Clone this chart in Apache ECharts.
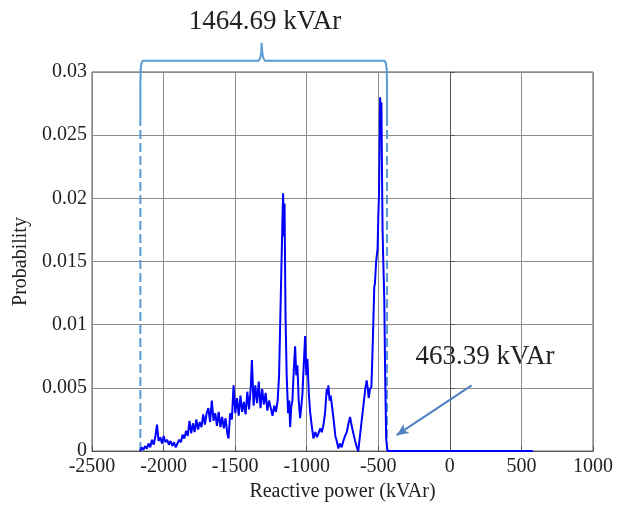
<!DOCTYPE html>
<html>
<head>
<meta charset="utf-8">
<script src="https://cdn.jsdelivr.net/npm/echarts@6/dist/echarts.min.js"></script>
<style>
  html, body { margin: 0; padding: 0; background: #fff; }
  #chart { width: 635px; height: 507px; }
</style>
</head>
<body>
<div id="chart"></div>
<script>
// [reactive power (kVAr), probability]
var distribution = [
  [-2165, 0.0000], [-2153, 0.0003], [-2141, 0.0001], [-2129, 0.0004], [-2117, 0.0002],
  [-2105, 0.0006], [-2093, 0.0003], [-2081, 0.0009], [-2069, 0.0005], [-2057, 0.0012],
  [-2046, 0.0021], [-2035, 0.0008], [-2023, 0.0011], [-2011, 0.0006], [-1999, 0.0012],
  [-1987, 0.0007], [-1975, 0.0009], [-1963, 0.0005], [-1951, 0.0008], [-1939, 0.0004],
  [-1927, 0.0007], [-1915, 0.0003], [-1903, 0.0006], [-1891, 0.0009], [-1879, 0.0007],
  [-1867, 0.0013], [-1855, 0.0010], [-1843, 0.0016], [-1831, 0.0012], [-1819, 0.0024],
  [-1807, 0.0014], [-1795, 0.0022], [-1783, 0.0015], [-1771, 0.0025], [-1759, 0.0017],
  [-1747, 0.0023], [-1735, 0.0019], [-1723, 0.0029], [-1711, 0.0021], [-1699, 0.0030],
  [-1687, 0.0034], [-1675, 0.0023], [-1663, 0.0040], [-1651, 0.0024], [-1639, 0.0030],
  [-1627, 0.0020], [-1615, 0.0031], [-1603, 0.0019], [-1591, 0.0027], [-1579, 0.0018],
  [-1567, 0.0026], [-1555, 0.0014], [-1546, 0.0010], [-1535, 0.0030], [-1523, 0.0025],
  [-1511, 0.0052], [-1499, 0.0030], [-1487, 0.0042], [-1475, 0.0028], [-1463, 0.0044],
  [-1451, 0.0031], [-1439, 0.0039], [-1427, 0.0029], [-1415, 0.0047], [-1403, 0.0033],
  [-1391, 0.0050], [-1383, 0.0072], [-1371, 0.0036], [-1359, 0.0052], [-1347, 0.0038],
  [-1335, 0.0055], [-1323, 0.0034], [-1311, 0.0049], [-1299, 0.0037], [-1287, 0.0046],
  [-1275, 0.0032], [-1263, 0.0040], [-1251, 0.0034], [-1239, 0.0028], [-1227, 0.0036],
  [-1215, 0.0031], [-1203, 0.0040], [-1193, 0.0060], [-1178, 0.0139], [-1170, 0.0180],
  [-1165, 0.0204], [-1160, 0.0170], [-1155, 0.0196], [-1148, 0.0107], [-1140, 0.0060],
  [-1130, 0.0030], [-1122, 0.0040], [-1116, 0.0019], [-1108, 0.0035], [-1100, 0.0040],
  [-1090, 0.0065], [-1081, 0.0083], [-1073, 0.0060], [-1065, 0.0068], [-1056, 0.0040],
  [-1046, 0.0026], [-1038, 0.0035], [-1030, 0.0045], [-1020, 0.0070], [-1011, 0.0091],
  [-1003, 0.0060], [-995, 0.0073], [-985, 0.0045], [-976, 0.0031], [-965, 0.0020],
  [-953, 0.0010], [-940, 0.0015], [-928, 0.0011], [-918, 0.0014], [-905, 0.0018],
  [-895, 0.0015], [-884, 0.0020], [-872, 0.0030], [-860, 0.0049], [-853, 0.0045],
  [-849, 0.0052], [-840, 0.0040], [-832, 0.0044], [-825, 0.0037], [-812, 0.0025],
  [-800, 0.0012], [-790, 0.0008], [-779, 0.0002], [-768, 0.0006], [-756, 0.0003],
  [-744, 0.0008], [-732, 0.0012], [-720, 0.0015], [-708, 0.0022], [-697, 0.0027],
  [-686, 0.0020], [-674, 0.0014], [-662, 0.0008], [-650, 0.0003], [-640, 0.0000],
  [-628, 0.0012], [-615, 0.0025], [-600, 0.0040], [-590, 0.0050], [-581, 0.0056],
  [-574, 0.0050], [-567, 0.0042], [-558, 0.0049], [-548, 0.0051], [-540, 0.0080],
  [-535, 0.0100], [-528, 0.0130], [-523, 0.0133], [-515, 0.0150], [-505, 0.0160],
  [-500, 0.0185], [-495, 0.0203], [-490, 0.0250], [-487, 0.0280], [-483, 0.0265],
  [-478, 0.0276], [-474, 0.0220], [-470, 0.0175], [-465, 0.0150], [-458, 0.0120],
  [-452, 0.0060], [-445, 0.0010], [-438, 0.0002], [-432, 0.0000], [580, 0.0000]
];

// Range markers (dashed) and the brace above them
var leftEdge = -2162;
var rightEdge = -439;
var dashTop = 0.0262;
var brace = [
  [-2162, 0.0262], [-2162, 0.0290], [-2160, 0.0302], [-2155, 0.0307], [-2145, 0.0309],
  [-1335, 0.0309], [-1325, 0.0311], [-1318, 0.0315], [-1315, 0.0323], [-1313, 0.0323],
  [-1310, 0.0315], [-1303, 0.0311], [-1293, 0.0309],
  [-458, 0.0309], [-447, 0.0307], [-441, 0.0302], [-439, 0.0290], [-439, 0.0262]
];

// Arrow to the 463.39 kVAr label
var arrowFrom = [152, 0.0052];
var arrowTo = [-372, 0.00126];

var xTicks = { min: -2500, max: 1000, step: 500 };
var yTicks = { min: 0, max: 0.03, step: 0.005 };

var chart = echarts.init(document.getElementById('chart'));
var serif = '"Liberation Serif", "Times New Roman", serif';
var accent = '#5b9bd5';

var option = {
  animation: false,
  backgroundColor: '#fff',
  grid: { left: 92, right: 42, top: 72, bottom: 54, show: true, borderColor: '#555', borderWidth: 1 },
  xAxis: {
    type: 'value',
    min: xTicks.min, max: xTicks.max, interval: xTicks.step,
    name: 'Reactive power (kVAr)',
    nameLocation: 'middle',
    nameGap: 30,
    nameTextStyle: { fontFamily: serif, fontSize: 20, color: '#222' },
    axisLine: { show: true, lineStyle: { color: '#555' } },
    axisTick: { show: true, inside: true, length: 5, lineStyle: { color: '#555' } },
    axisLabel: {
      fontFamily: serif, fontSize: 20, color: '#222', margin: 6,
      formatter: function (v) { return String(v); }
    },
    splitLine: { show: true, lineStyle: { color: '#8c8c8c', width: 1 } }
  },
  yAxis: {
    type: 'value',
    min: yTicks.min, max: yTicks.max, interval: yTicks.step,
    name: 'Probability',
    nameLocation: 'middle',
    nameGap: 60,
    nameTextStyle: { fontFamily: serif, fontSize: 20, color: '#222' },
    axisLine: { show: true, lineStyle: { color: '#555' } },
    axisTick: { show: true, inside: true, length: 5, lineStyle: { color: '#555' } },
    axisLabel: {
      fontFamily: serif, fontSize: 20, color: '#222', margin: 5,
      formatter: function (v) { return String(+v.toFixed(3)); }
    },
    splitLine: { show: true, lineStyle: { color: '#8c8c8c', width: 1 } }
  },
  series: [
    {
      name: 'Probability',
      type: 'line',
      data: distribution,
      showSymbol: false,
      lineStyle: { color: '#0000ff', width: 2 },
      z: 5
    },
    {
      type: 'line',
      data: [[leftEdge, 0], [leftEdge, dashTop]],
      showSymbol: false,
      lineStyle: { color: accent, width: 2, type: [9, 4] },
      z: 4
    },
    {
      type: 'line',
      data: [[rightEdge, 0], [rightEdge, dashTop]],
      showSymbol: false,
      lineStyle: { color: accent, width: 2, type: [9, 4] },
      z: 4
    },
    {
      type: 'line',
      data: brace,
      showSymbol: false,
      clip: false,
      lineStyle: { color: accent, width: 2 },
      z: 4
    },
    {
      type: 'line',
      data: [],
      markLine: {
        silent: true,
        symbol: ['none', 'arrow'],
        symbolSize: [8, 12],
        label: { show: false },
        lineStyle: { color: '#4f81bd', width: 2, type: 'solid' },
        data: [[{ coord: arrowFrom }, { coord: arrowTo }]]
      }
    }
  ],
  graphic: [
    {
      type: 'text',
      x: 265, y: 22,
      style: {
        text: '1464.69 kVAr',
        fontFamily: serif, fontSize: 27, fill: '#222',
        textAlign: 'center', textVerticalAlign: 'middle'
      }
    },
    {
      type: 'text',
      x: 485, y: 357,
      style: {
        text: '463.39 kVAr',
        fontFamily: serif, fontSize: 27, fill: '#222',
        textAlign: 'center', textVerticalAlign: 'middle'
      }
    }
  ]
};

chart.setOption(option);
</script>
</body>
</html>
